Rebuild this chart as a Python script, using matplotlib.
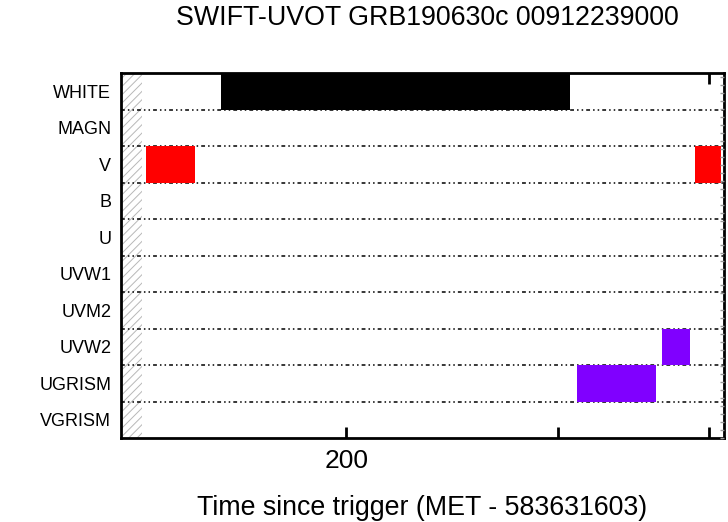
import matplotlib.pyplot as plt
from matplotlib.ticker import FixedLocator, NullFormatter, MultipleLocator, NullLocator

plt.rcParams['font.family'] = ['Liberation Sans', 'DejaVu Sans']

title = "SWIFT-UVOT GRB190630c 00912239000"
filters = ['WHITE', 'MAGN', 'V', 'B', 'U', 'UVW1', 'UVM2', 'UVW2', 'UGRISM', 'VGRISM']

# exposures: filter, start, stop (s since trigger)
seg_filter = ['WHITE', 'V', 'V', 'UVW2', 'UGRISM']
seg_start = [157.5, 136.4, 389.7, 366.0, 311.0]
seg_stop = [307.0, 149.8, 409.9, 386.0, 361.8]
seg_color = ['#000000', '#ff0000', '#ff0000', '#8000ff', '#8000ff']

xmin, xmax = 130, 412
slew_end = 135.4

fig = plt.figure(figsize=(7.28, 5.22), dpi=100)
ax = fig.add_axes([121 / 728, 1 - 438 / 522, 603 / 728, 365 / 522])
ax.set_xscale('log')
ax.set_xlim(xmin, xmax)
ax.set_ylim(len(filters), 0)

# hatched region before the first exposure
plt.rcParams['hatch.linewidth'] = 0.7
ax.axvspan(xmin, slew_end, facecolor='none', edgecolor='#b8b8b8',
           hatch='////', linewidth=0, zorder=1)

# row separators
for i in range(1, len(filters)):
    ax.axhline(i, color='black', linewidth=1.1, linestyle=(0, (2.5, 2, 1, 2, 1, 2)), zorder=2)

for f, s, e, c in zip(seg_filter, seg_start, seg_stop, seg_color):
    row = filters.index(f)
    ax.barh(row + 0.5, e - s, left=s, height=1.0, color=c, linewidth=0, zorder=3)

ax.set_yticks([i + 0.5 for i in range(len(filters))])
ax.set_yticklabels(filters, fontsize=13)
ax.tick_params(axis='y', length=0, pad=7)

ax.xaxis.set_major_locator(FixedLocator([200, 300, 400]))
ax.xaxis.set_minor_locator(NullLocator())
ax.set_xticklabels(['200', '', ''], fontsize=19)
ax.xaxis.set_minor_formatter(NullFormatter())
ax.tick_params(axis='x', direction='in', length=8, width=2, top=True, pad=8)

for sp in ax.spines.values():
    sp.set_linewidth(2)

# small gray ticks along the right edge
ax2 = ax.twinx()
ax2.set_ylim(0, len(filters))
ax2.yaxis.set_major_locator(MultipleLocator(0.22))
ax2.yaxis.set_major_formatter(NullFormatter())
ax2.tick_params(axis='y', direction='in', length=3, width=1, color='#999999')
for sp in ax2.spines.values():
    sp.set_visible(False)

ax.set_xlabel("Time since trigger (MET - 583631603)", fontsize=19.3, labelpad=16)
fig.text(427 / 728, 1 - 18 / 522, title, fontsize=19.3, ha='center', va='center')

fig.savefig('out.png', dpi=100)
